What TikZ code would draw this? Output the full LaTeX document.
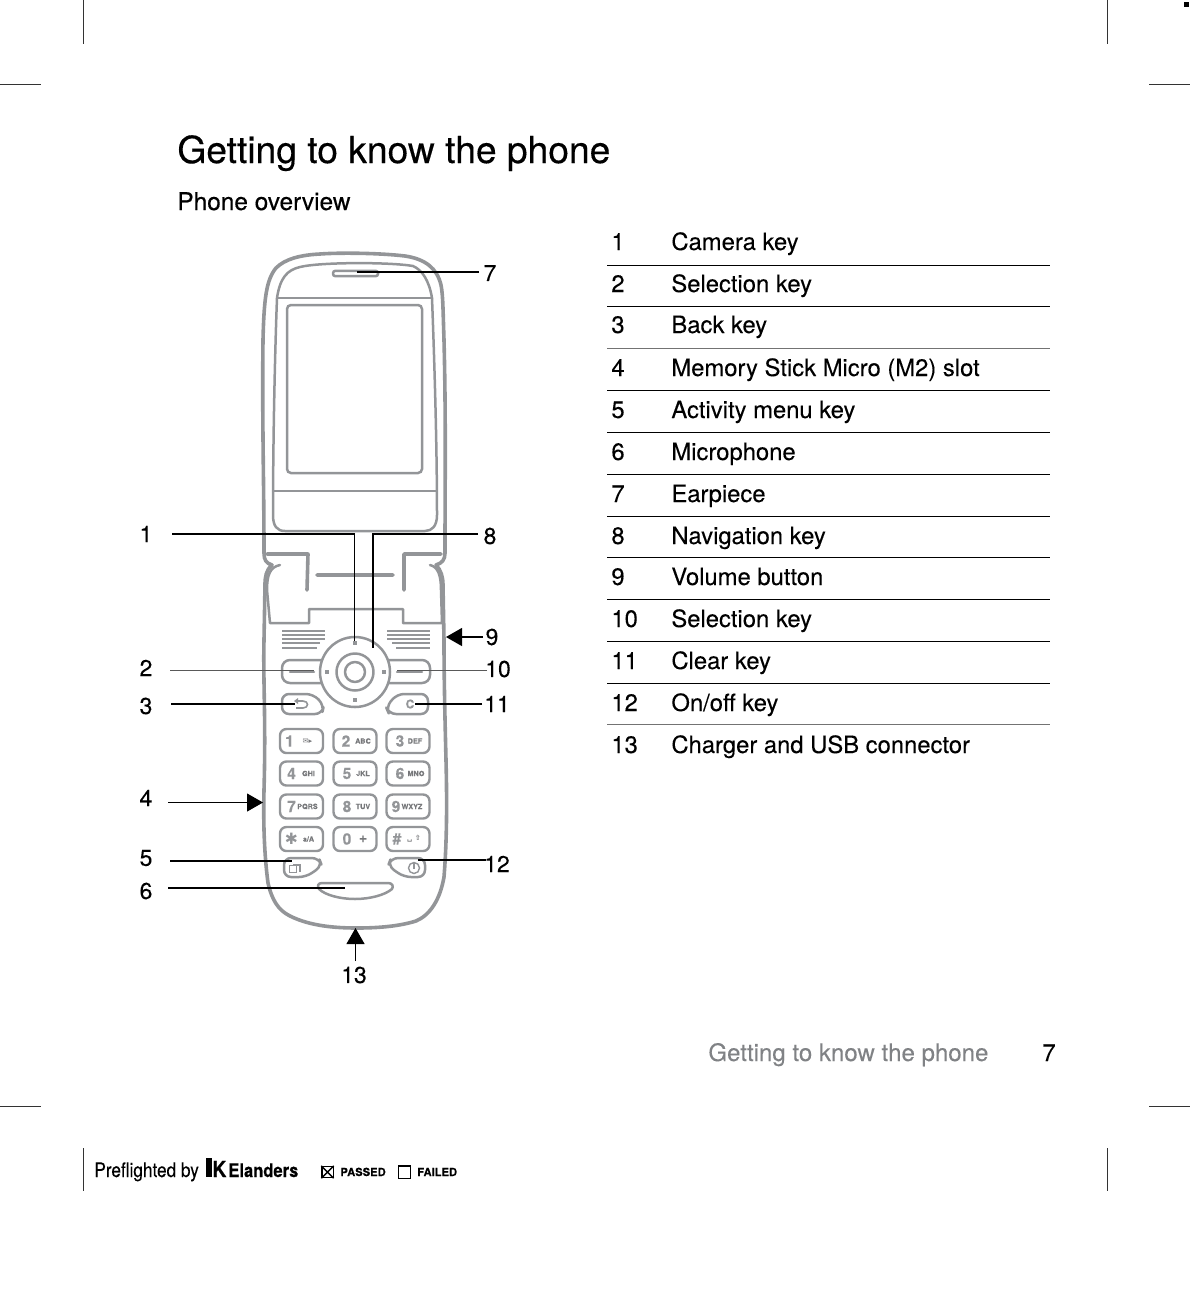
\documentclass[tikz,border=0pt]{standalone}
\usepackage{fontspec}
\setmainfont[FakeBold=0.12]{TeX Gyre Heros}
\newfontfamily\headfont[FakeBold=0.35]{TeX Gyre Heros}
\newfontfamily\logofont[FakeStretch=0.86,FakeBold=0.15]{TeX Gyre Heros}
\newfontfamily\logoboldfont[FakeStretch=0.88,FakeBold=0.3]{TeX Gyre Heros Bold}
\newfontfamily\symfont{DejaVu Sans}
\usetikzlibrary{arrows.meta}
\definecolor{phonegray}{HTML}{939598}
\definecolor{footgray}{HTML}{808285}
\tikzset{
  x=0.5pt,y=-0.5pt,
  body/.style={draw=phonegray,line width=1.8pt,line join=round,line cap=round},
  thin body/.style={draw=phonegray,line width=1.25pt,line join=round,line cap=round},
  grille/.style={draw=phonegray,line width=0.7pt},
  keycap/.style={draw=phonegray,line width=1.2pt,rounded corners=3.2pt,minimum width=21.5pt,minimum height=12pt,inner sep=0pt},
  keynum/.style={text=phonegray,inner sep=0pt,font=\fontsize{7.8}{8}\bfseries\selectfont},
  keylet/.style={text=phonegray!80!black,inner sep=0pt,font=\fontsize{3.6}{4}\bfseries\selectfont},
  dotkey/.style={fill=phonegray,draw=none,minimum size=2.3pt,inner sep=0pt},
  leader/.style={draw=black,line width=0.6pt},
  leadergray/.style={draw=black!65,line width=0.5pt},
  pointer/.style={draw=black,line width=0.6pt,-{Triangle[length=8pt,width=9pt]}},
  crop/.style={draw=black!80,line width=0.4pt},
  callout/.style={inner sep=0pt,font=\fontsize{11.5}{13}\selectfont},
  rowtext/.style={anchor=base west,inner sep=0pt,font=\fontsize{11.9}{13}\selectfont},
  rowrule/.style={draw=black,line width=0.45pt},
  rowrule light/.style={draw=black!55,line width=0.45pt},
  logotext/.style={anchor=base west,inner sep=0pt},
}
\newcommand{\kkey}[7]{% name,x,y,num,letters,num dx,letter dx
  \node[keycap] (#1) at (#2,#3) {};
  \node[keynum,anchor=center] at (#2+#6,#3) {#4};
  \node[keylet,anchor=center] at (#2+#7,#3) {#5};}
\newcommand{\trow}[3]{%
  \node[rowtext] (num#1) at (611,#3) {#1};
  \node[rowtext] (txt#1) at (671,#3) {#2};}
\begin{document}
\begin{tikzpicture}
\useasboundingbox (0,0) rectangle (1190,1297);
% crop marks
\draw[crop] (83,0)--(83,44) (1107,0)--(1107,44) (0,84)--(41,84) (1149,84)--(1190,84)
  (0,1106)--(41,1106) (1149,1106)--(1190,1106) (83,1148)--(83,1191) (1107,1148)--(1107,1191);
\fill (1184,2) rectangle (1189,7);
% headings
\node[anchor=base west,inner sep=0pt,font=\headfont\fontsize{18.6}{20}\selectfont] (title) at (177,163) {Getting to know the phone};
\node[anchor=base west,inner sep=0pt,font=\headfont\fontsize{12.2}{14}\selectfont] (sub) at (177,210) {Phone overview};
% table
\trow{1}{Camera key}{250}
\trow{2}{Selection key}{292}
\trow{3}{Back key}{333}
\trow{4}{Memory Stick Micro (M2) slot}{376}
\trow{5}{Activity menu key}{418}
\trow{6}{Microphone}{460}
\trow{7}{Earpiece}{502}
\trow{8}{Navigation key}{544}
\trow{9}{Volume button}{585}
\trow{10}{Selection key}{627}
\trow{11}{Clear key}{669}
\trow{12}{On/off key}{711}
\trow{13}{Charger and USB connector}{753}
\foreach \yy in {265,306,390,432,474,516,557,599,641,683}
  \draw[rowrule] (607,\yy)--(1050,\yy);
\foreach \yy in {348,724}
  \draw[rowrule light] (607,\yy)--(1050,\yy);
% footer
\node[anchor=base west,inner sep=0pt,text=footgray,font=\fontsize{12.03}{13}\selectfont] (foot) at (708,1061) {Getting to know the phone};
\node[anchor=base west,inner sep=0pt,font=\fontsize{11.9}{13}\selectfont] (pageno) at (1042,1061) {7};
% preflight strip
\node[logotext,font=\logofont\fontsize{10}{11}\selectfont] (pref) at (94,1177) {Preflighted by};
\fill (206,1158) rectangle (212,1177);
\node[logotext,font=\logoboldfont\fontsize{11}{12}\selectfont] (klogo) at (212,1177) {K};
\node[logotext,font=\logoboldfont\fontsize{9.4}{11}\selectfont] (elan) at (228,1177) {Elanders};
\node[draw=black,line width=0.6pt,minimum size=5.6pt,inner sep=0pt] (bpass) at (327.5,1172) {};
\draw[line width=0.7pt] (bpass.south west)--(bpass.north east) (bpass.north west)--(bpass.south east);
\node[logotext,font=\fontsize{5.6}{6}\bfseries\selectfont] (tpass) at (340,1176) {PASSED};
\node[draw=black,line width=0.7pt,minimum size=6.2pt,inner sep=0pt] (bfail) at (404.5,1172) {};
\node[logotext,font=\fontsize{5.6}{6}\bfseries\selectfont] (tfail) at (417,1176) {FAILED};
% lid
\draw[body] (264,553) .. controls (264,480) and (262,420) .. (263,340)
  .. controls (264,300) and (266,280) .. (276,268)
  .. controls (285,259) and (300,255) .. (320,254)
  .. controls (340,252.5) and (380,253) .. (405,256)
  .. controls (425,259) and (437,268) .. (441,285)
  .. controls (443,295) and (443,310) .. (444,340)
  .. controls (446,420) and (445,480) .. (445,553);
\draw[thin body] (277,298) .. controls (280,278) and (287,270) .. (300,267)
  .. controls (320,262) and (390,262) .. (413,266)
  .. controls (422,270) and (429,280) .. (432,298)
  .. controls (434,350) and (437,440) .. (437,515)
  .. controls (437,526) and (432,531) .. (425,531)
  -- (285,531)
  .. controls (277,531) and (273,526) .. (273,515)
  .. controls (273,440) and (275,350) .. (277,298) -- cycle;
\draw[thin body] (277,298)--(432,298) (273,491)--(436,491);
\node[draw=phonegray,line width=1.25pt,rounded corners=2pt,minimum width=67.5pt,minimum height=84pt,inner sep=0pt] (screen) at (354.5,389) {};
\node[draw=phonegray,line width=1.25pt,rounded corners=1.2pt,minimum width=22.5pt,minimum height=2.7pt,inner sep=0pt] (earpiece) at (355.5,273.5) {};
% hinge
\draw[body] (264,553) .. controls (264,560) and (266,563) .. (272,565)
  .. controls (266,570) and (265,577) .. (265,585) -- (264,640)
  .. controls (263,680) and (266,720) .. (264,790)
  .. controls (263,830) and (265,860) .. (268,883)
  .. controls (272,900) and (278,910) .. (290,916)
  .. controls (310,926) and (335,928) .. (357,928)
  .. controls (380,928) and (400,926) .. (416,921)
  .. controls (430,915) and (440,900) .. (444,877)
  .. controls (447,840) and (447,800) .. (446,760)
  .. controls (445,720) and (444,680) .. (444,640) -- (443,585)
  .. controls (443,577) and (441,570) .. (436,565)
  .. controls (442,563) and (445,560) .. (445,553);
\draw[body] (267,554)--(308,554)--(307,590) (441,554)--(404,554)--(404,590) (317,575)--(393,575);
\draw[thin body] (280,565) .. controls (270,567) and (267,575) .. (267,590) -- (270,623) -- (309,623) -- (309,609) -- (403,609) -- (403,623) -- (442,623) -- (441,590)
  .. controls (441,575) and (438,567) .. (430,565);
% grilles
\draw[grille] (282,631)--(325,631) (282,635)--(325,635) (282,639)--(325,639) (282,643)--(320,643) (282,648)--(317,648);
\draw[grille] (387,631)--(430,631) (387,635)--(430,635) (387,639)--(430,639) (392,643)--(430,643) (396,648)--(430,648);
% navigation key
\coordinate (navc) at (355,672);
\draw[thin body] (navc) circle (35);
\draw[thin body] (navc) circle (18.5);
\draw[thin body] (navc) circle (10);
\node[dotkey] (navup) at (355,643) {};
\node[dotkey] (navl) at (327,672) {};
\node[dotkey] (navr) at (384,672) {};
\node[dotkey] (navd) at (355,700) {};
% soft keys
\draw[thin body,rounded corners=4pt] (322,660)--(282,660)--(282,683)--(322,683);
\draw[thin body,rounded corners=4pt] (388,660)--(430,660)--(430,683)--(388,683);
\draw[thin body] (290,672)--(314,672) (397,672)--(422,672);
\draw[thin body,rounded corners=3.5pt] (282,694)--(313,694)--(324,705)--(322,714)--(282,714)--cycle;
\draw[thin body,rounded corners=3.5pt] (428,694)--(397,694)--(386,707)--(389,714)--(428,714)--cycle;
\coordinate (backc) at (301,704);
\draw[draw=phonegray,line width=0.8pt] (297,701)--(303,701) .. controls (309,701) and (309,708) .. (303,708) -- (296,708);
\fill[phonegray] (294,701)--(298,698)--(298,704)--cycle;
\node[keynum,font=\fontsize{6}{6}\bfseries\selectfont] (clearc) at (410,704) {C};
% keypad
\kkey{k1}{301.5}{741}{1}{\symfont ✉▸}{-12}{6}
\kkey{k2}{355}{741}{2}{ABC}{-9}{8}
\kkey{k3}{408}{741}{3}{DEF}{-8}{7}
\kkey{k4}{301.5}{773.5}{4}{GHI}{-10}{7}
\kkey{k5}{355}{773.5}{5}{JKL}{-8}{8}
\kkey{k6}{408}{773.5}{6}{MNO}{-8}{8}
\kkey{k7}{301.5}{806.5}{7}{PQRS}{-10}{6}
\kkey{k8}{355}{806.5}{8}{TUV}{-8}{8}
\kkey{k9}{408}{806.5}{9}{WXYZ}{-12}{4}
\kkey{kstar}{301.5}{839}{\symfont ✱}{a/A}{-10}{7}
\kkey{k0}{355}{839}{0}{\fontsize{7}{7}\selectfont +}{-8}{8}
\kkey{khash}{408}{839}{\#}{\symfont ␣ ⇧}{-11}{6}
% activity / on-off
\draw[thin body,rounded corners=3.5pt] (284,858)--(319,858)--(322,866)--(306,877)--(284,877)--cycle;
\draw[thin body,rounded corners=3.5pt] (425,858)--(391,858)--(388,866)--(404,877)--(425,877)--cycle;
\node[draw=phonegray,line width=0.7pt,minimum size=3.5pt,inner sep=0pt] (actkey) at (293,869) {};
\draw[draw=phonegray,line width=0.7pt] (293,865)--(300,865)--(300,872);
\node[draw=phonegray,line width=0.7pt,circle,minimum size=5.5pt,inner sep=0pt] (pwrkey) at (414,868) {};
\draw[draw=phonegray,line width=0.7pt] (414,862)--(414,869);
% microphone
\draw[thin body] (322,883)--(388,883) .. controls (392,883) and (394,886) .. (392,889)
  .. controls (385,895) and (370,899) .. (355,899)
  .. controls (340,899) and (325,895) .. (319,889)
  .. controls (317,886) and (318,883) .. (322,883) -- cycle;
% callouts
\node[callout] (l1) at (146,534) {1};
\node[callout] (l2) at (146,668) {2};
\node[callout] (l3) at (146,706) {3};
\node[callout] (l4) at (146,798) {4};
\node[callout] (l5) at (146,858) {5};
\node[callout] (l6) at (146,891) {6};
\node[callout] (l7) at (490,273) {7};
\node[callout] (l8) at (490,536) {8};
\node[callout] (l9) at (492,637) {9};
\node[callout] (l10) at (498,669) {10};
\node[callout] (l11) at (497,704) {11};
\node[callout] (l12) at (497,864) {12};
\node[callout] (l13) at (354,975) {13};
\coordinate (s1) at (172,534); \coordinate (e1) at (354.5,641);
\coordinate (s2) at (170,670); \coordinate (e2) at (314,670);
\coordinate (s3) at (171,704); \coordinate (e3) at (295,704);
\coordinate (s4) at (168,802.5); \coordinate (e4) at (263,802.5);
\coordinate (s5) at (170,861); \coordinate (e5) at (292,861);
\coordinate (s6) at (168,888); \coordinate (e6) at (345,888);
\coordinate (s7) at (479,272); \coordinate (e7) at (357,272);
\coordinate (s8) at (478,534); \coordinate (e8) at (373,648);
\coordinate (s9) at (483,637); \coordinate (e9) at (446,637);
\coordinate (s10) at (487,670); \coordinate (e10) at (397,670);
\coordinate (s11) at (482,704); \coordinate (e11) at (415,704);
\coordinate (s12) at (486,860); \coordinate (e12) at (418,860);
\coordinate (s13) at (355.5,961); \coordinate (e13) at (355.5,928);
\draw[leader] (s1) -| (e1);
\draw[leadergray] (s2) -- (e2);
\draw[leader] (s3) -- (e3);
\draw[pointer] (s4) -- (e4);
\draw[leader] (s5) -- (e5);
\draw[leader] (s6) -- (e6);
\draw[leader] (s7) -- (e7);
\draw[leader] (s8) -| (e8);
\draw[pointer] (s9) -- (e9);
\draw[leadergray] (s10) -- (e10);
\draw[leader] (s11) -- (e11);
\draw[leader] (s12) -- (e12);
\draw[pointer] (s13) -- (e13);
\end{tikzpicture}
\end{document}
